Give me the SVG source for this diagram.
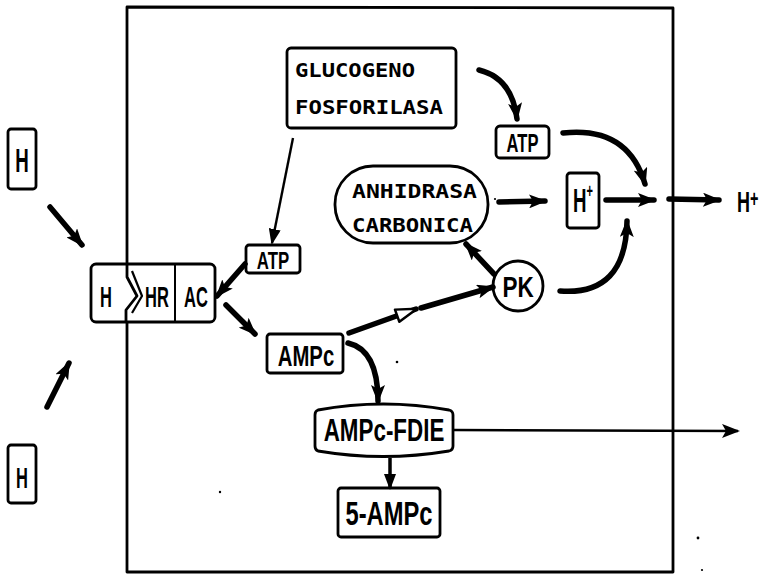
<svg xmlns="http://www.w3.org/2000/svg" width="765" height="582" viewBox="0 0 765 582">
<style>
.box{fill:#fff;stroke:#000;stroke-width:2.8;stroke-linejoin:round}
.frame{fill:none;stroke:#000;stroke-width:2.8;stroke-linejoin:round}
.lbl{font-family:"Liberation Sans",Arial,sans-serif;font-weight:bold;fill:#000}
.mono{font-family:"DejaVu Sans Mono","Liberation Mono",monospace;font-weight:bold;fill:#000}
.thick{fill:none;stroke:#000;stroke-width:5.5;stroke-linecap:round}
.thin{fill:none;stroke:#000;stroke-width:2.4}
</style>
<defs>
<marker id="ah" markerUnits="userSpaceOnUse" markerWidth="20" markerHeight="14" refX="16" refY="7" orient="auto" viewBox="0 0 20 14">
<path d="M0,0 L18,7 L0,14 L4,7 Z" fill="#000"/>
</marker>
<marker id="ahs" markerUnits="userSpaceOnUse" markerWidth="16" markerHeight="12" refX="14" refY="6" orient="auto" viewBox="0 0 16 12">
<path d="M0,0 L16,6 L0,12 Z" fill="#000"/>
</marker>
<marker id="aho" markerUnits="userSpaceOnUse" markerWidth="26" markerHeight="16" refX="22" refY="8" orient="auto" viewBox="0 0 26 16">
<path d="M2,1.5 L23,8 L2,14.5 Z" fill="#fff" stroke="#000" stroke-width="2.5" stroke-linejoin="round"/>
</marker>
</defs>

<g id="membrane">
<path class="frame" d="M127,264 L127,7 L673,8 L673,572 L127,572 L127,322"/>
</g>

<g id="H-top">
<rect class="box" x="8" y="129" width="28" height="60" rx="3"/>
<text class="lbl" font-size="34" text-anchor="middle" transform="translate(22,172) scale(0.55,1)">H</text>
</g>
<g id="H-bottom">
<rect class="box" x="8" y="445" width="28" height="58" rx="3"/>
<text class="lbl" font-size="30" text-anchor="middle" transform="translate(22,488) scale(0.55,1)">H</text>
</g>

<g id="complex">
<rect class="box" x="91" y="264" width="124" height="58" rx="5"/>
<path fill="none" stroke="#000" stroke-width="2.8" stroke-linejoin="round" d="M127,264 L127,277 L137,296 L126,310 L126,322"/>
<path fill="none" stroke="#000" stroke-width="2.2" stroke-linejoin="round" d="M132,271 L142,296 L132,313"/>
<line x1="175" y1="264" x2="175" y2="322" stroke="#000" stroke-width="2"/>
<text class="lbl" font-size="30" text-anchor="middle" transform="translate(106,307) scale(0.55,1)">H</text>
<text class="lbl" font-size="30" text-anchor="middle" transform="translate(157,307) scale(0.55,1)">HR</text>
<text class="lbl" font-size="30" text-anchor="middle" transform="translate(196,307) scale(0.55,1)">AC</text>
</g>

<g id="glucogeno">
<rect class="box" x="287" y="48" width="169" height="80" rx="4"/>
<text class="mono" x="295" y="77" font-size="19" textLength="120" lengthAdjust="spacingAndGlyphs">GLUCOGENO</text>
<text class="mono" x="295" y="114" font-size="19" textLength="148" lengthAdjust="spacingAndGlyphs">FOSFORILASA</text>
</g>

<g id="atp-top">
<rect class="box" x="496" y="126" width="53" height="32" rx="4"/>
<text class="lbl" font-size="25" text-anchor="middle" transform="translate(522.5,152) scale(0.66,1)">ATP</text>
</g>

<g id="anhidrasa">
<rect class="box" x="335" y="166" width="153" height="77" rx="38"/>
<text class="mono" x="352" y="198" font-size="19" textLength="125" lengthAdjust="spacingAndGlyphs">ANHIDRASA</text>
<text class="mono" x="352" y="232" font-size="19" textLength="121" lengthAdjust="spacingAndGlyphs">CARBONICA</text>
</g>

<g id="hplus-box">
<rect class="box" x="567" y="173" width="32" height="55" rx="3"/>
<text class="lbl" font-size="34" transform="translate(573,212) scale(0.55,1)">H<tspan font-size="20" dy="-14">+</tspan></text>
</g>

<g id="hplus-out">
<text class="lbl" font-size="30" transform="translate(737,212) scale(0.6,1)">H<tspan font-size="24" dy="-5">+</tspan></text>
</g>

<g id="atp-mid">
<rect class="box" x="246" y="245" width="54" height="28" rx="3"/>
<text class="lbl" font-size="24" text-anchor="middle" transform="translate(273,269) scale(0.7,1)">ATP</text>
</g>

<g id="pk">
<circle class="box" cx="518" cy="286" r="25"/>
<text class="lbl" font-size="30" text-anchor="middle" transform="translate(518,297) scale(0.75,1)">PK</text>
</g>

<g id="ampc">
<rect class="box" x="267" y="334" width="76" height="39" rx="3"/>
<text class="lbl" font-size="29" text-anchor="middle" transform="translate(306,366) scale(0.7,1)">AMPc</text>
</g>

<g id="ampc-fdie">
<path class="box" d="M318,410 Q383,398 449,410 Q453,411 453,415 L453,446 Q453,450 449,451 Q383,462 318,451 Q315,450 315,446 L315,415 Q315,411 318,410 Z"/>
<text class="lbl" font-size="32" text-anchor="middle" transform="translate(384,441) scale(0.7,1)">AMPc-FDIE</text>
</g>

<g id="five-ampc">
<rect class="box" x="338" y="488" width="102" height="49" rx="3"/>
<text class="lbl" font-size="33" text-anchor="middle" transform="translate(389,525) scale(0.72,1)">5-AMPc</text>
</g>

<g id="connectors">
<line class="thick" x1="50" y1="207" x2="82" y2="245" marker-end="url(#ah)"/>
<line class="thick" x1="47" y1="407" x2="69" y2="363" marker-end="url(#ah)"/>
<line class="thick" x1="245" y1="264" x2="217" y2="296" marker-end="url(#ah)"/>
<line class="thick" x1="226" y1="305" x2="255" y2="334" marker-end="url(#ah)"/>
<line class="thin" x1="293" y1="138" x2="272" y2="243" marker-end="url(#ahs)"/>
<path class="thick" d="M479,70 Q512,78 517,119" marker-end="url(#ah)"/>
<path class="thick" d="M563,133 Q628,126 645,184" marker-end="url(#ah)"/>
<line class="thick" x1="499" y1="202" x2="545" y2="201" marker-end="url(#ah)"/>
<line class="thick" x1="606" y1="200" x2="654" y2="200" marker-end="url(#ah)"/>
<line class="thick" x1="669" y1="199" x2="719" y2="200" marker-end="url(#ah)"/>
<path class="thick" d="M560,291 Q626,296 627,221" marker-end="url(#ah)"/>
<line class="thick" x1="494" y1="274" x2="466" y2="244" marker-end="url(#ah)"/>
<line class="thick" x1="349" y1="333" x2="416" y2="309" marker-end="url(#aho)"/>
<line class="thick" x1="421" y1="308" x2="493" y2="287" marker-end="url(#ah)"/>
<path class="thick" d="M348,343 Q378,350 378,401" marker-end="url(#ah)"/>
<line class="thin" x1="453" y1="430" x2="738" y2="431" marker-end="url(#ah)"/>
<line x1="390" y1="458" x2="390" y2="488" stroke="#000" stroke-width="3.5" marker-end="url(#ahs)"/>
</g>

<g id="specks" fill="#000">
<circle cx="397" cy="362" r="1.3"/>
<circle cx="698" cy="538" r="1.4"/>
<circle cx="702" cy="570" r="1.1"/>
<circle cx="220" cy="492" r="1.2"/>
<circle cx="495" cy="199" r="1.1"/>
</g>
</svg>
